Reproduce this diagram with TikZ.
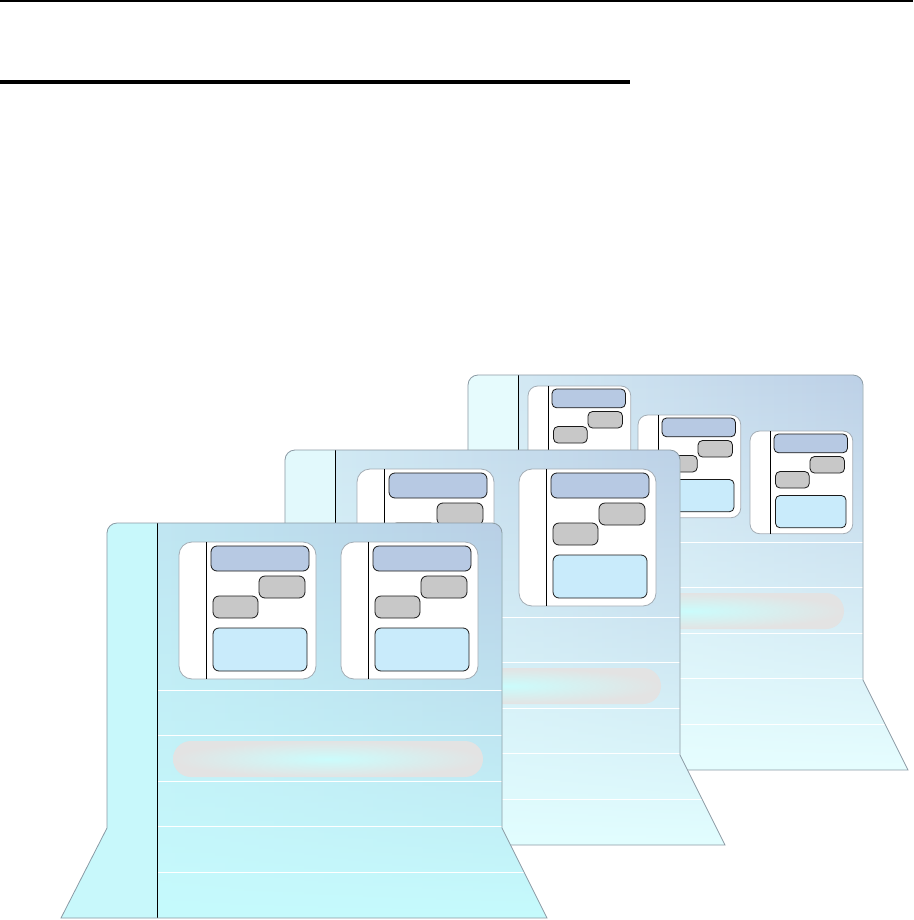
\documentclass[tikz,border=0pt]{standalone}
\usepackage{tikz}
\usetikzlibrary{fadings}
\usepackage{xcolor}
\definecolor{boxblue}{HTML}{B7C9E3}
\definecolor{boxgray}{HTML}{C8C8C8}
\definecolor{boxsky}{HTML}{C9EBFB}
\definecolor{edgegray}{HTML}{8C9AA4}
\definecolor{cardedge}{HTML}{A3ACB4}
\definecolor{pillgray}{HTML}{E3E3E3}
\definecolor{pillcyan}{HTML}{CBFCFC}
\definecolor{stripA}{HTML}{C8F8FB}
\definecolor{topA}{HTML}{B8CCE4}
\definecolor{botA}{HTML}{C6FBFD}
\definecolor{stripB}{HTML}{E2F9FC}
\definecolor{topB}{HTML}{BACEE5}
\definecolor{botB}{HTML}{E2FEFF}
\definecolor{stripC}{HTML}{E6FBFD}
\definecolor{topC}{HTML}{BACDE5}
\definecolor{botC}{HTML}{E6FEFF}
\newcommand{\panelpath}{(0,305) -- (0,10) .. controls (0,4.5) and (4.5,0) .. (10,0) -- (385,0) .. controls (390.5,0) and (395,4.5) .. (395,10) -- (395,305) -- (440,395) -- (-46,395) -- cycle}
\newcommand{\mockcard}[3]{%
  \begin{scope}[shift={(#1,#2)}, scale=#3]
    \draw[cardedge, fill=white, rounded corners=#3*13pt] (0,0) rectangle (137,137);
    \draw[black] (27,0) -- (27,137);
    \draw[black!90, fill=boxblue, rounded corners=#3*6pt] (32,4) rectangle (130,29);
    \draw[black!90, fill=boxgray, rounded corners=#3*6pt] (80,34) rectangle (126,56);
    \draw[black!90, fill=boxgray, rounded corners=#3*6pt] (34,54) rectangle (79,76);
    \draw[black!90, fill=boxsky, rounded corners=#3*6pt] (34,86) rectangle (128,129);
  \end{scope}}
\newcommand{\mockpanel}[5]{%
  \begin{scope}[shift={(#1,#2)}]
    % 面板底色
    \fill[#5] \panelpath;
    \shade[left color=#5!70!#4, right color=#4, path fading=south] \panelpath;
    \begin{scope}
      \clip \panelpath;
      \fill[#3] (-50,0) rectangle (50,400);
      \foreach \r in {167,212.6,258.2,303.8,349.4}
        \draw[white, line width=1pt] (50,\r) -- (460,\r);
    \end{scope}
    \draw[black] (50,0) -- (50,395);
    % 灰色横条
    \shade[inner color=pillcyan, outer color=pillgray, rounded corners=18pt] (66,218) rectangle (376,254);
    \draw[edgegray, line width=0.8pt] \panelpath;
  \end{scope}}

\begin{document}
\begin{tikzpicture}[x=1pt, y=-1pt, line width=0.8pt]
    \useasboundingbox (0,0) rectangle (913,920);
    % 顶部两条粗线
    \draw[line width=2pt] (0,1) -- (913,1);
    \draw[line width=4pt] (0,82) -- (630,82);
    % 最后面的面板
    \mockpanel{468}{375}{stripC}{topC}{botC}
    \mockcard{528}{386}{0.75}
    \mockcard{638}{415}{0.75}
    \mockcard{750}{431}{0.75}
    % 中间的面板
    \mockpanel{285}{450}{stripB}{topB}{botB}
    \mockcard{357}{469}{1}
    \mockcard{519}{469}{1}
    % 最前面的面板
    \mockpanel{107}{523}{stripA}{topA}{botA}
    \mockcard{179}{542}{1}
    \mockcard{341}{542}{1}
\end{tikzpicture}
\end{document}
